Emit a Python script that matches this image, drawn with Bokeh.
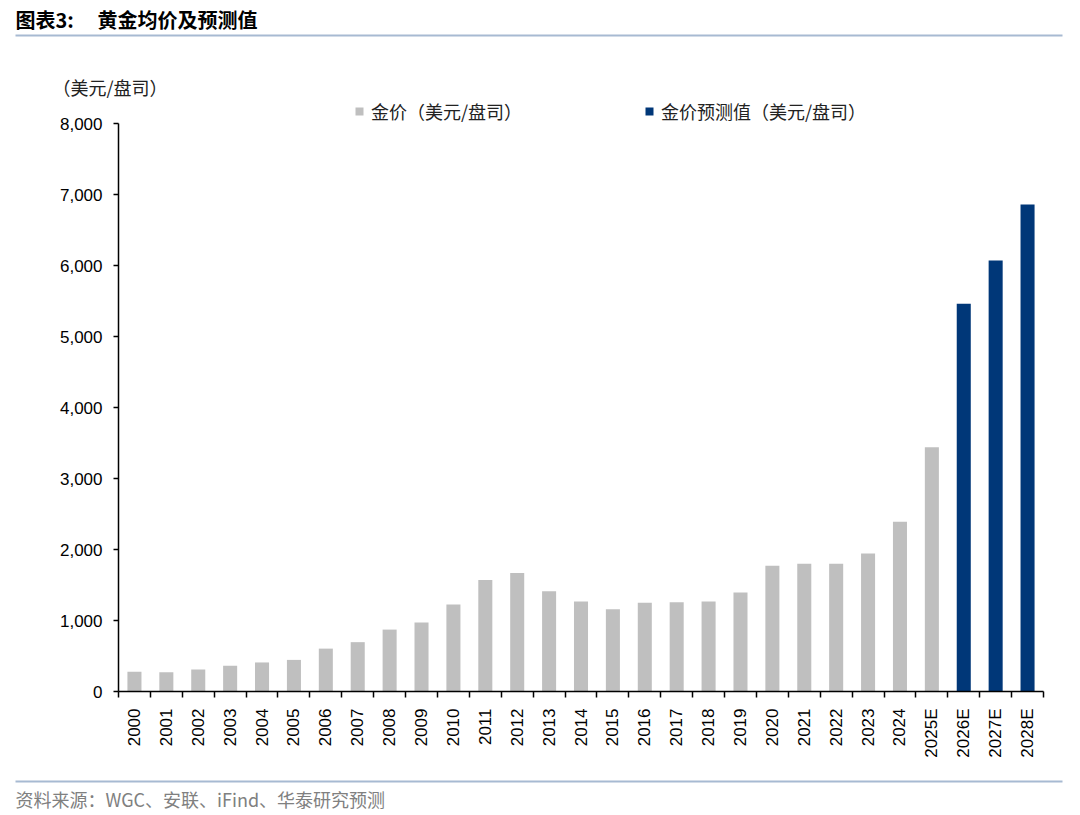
import math
from bokeh.plotting import figure
from bokeh.models import (ColumnDataSource, FixedTicker, Label, BoxAnnotation,
                          Legend, LegendItem, Range1d, NumeralTickFormatter)
from bokeh.embed import file_html
from bokeh.resources import INLINE

categories = ["2000", "2001", "2002", "2003", "2004", "2005", "2006", "2007",
              "2008", "2009", "2010", "2011", "2012", "2013", "2014", "2015",
              "2016", "2017", "2018", "2019", "2020", "2021", "2022", "2023",
              "2024", "2025E", "2026E", "2027E", "2028E"]
actual_values = [279, 271, 310, 363, 409, 445, 604, 695, 872, 972, 1225, 1572,
                 1669, 1411, 1266, 1160, 1251, 1257, 1268, 1393, 1770, 1800,
                 1800, 1943, 2390, 3440]
forecast_values = [5460, 6070, 6860]
y_ticks = [0, 1000, 2000, 3000, 4000, 5000, 6000, 7000, 8000]

n_cat = len(categories)
n_act = len(actual_values)
act_src = ColumnDataSource(dict(x=list(range(n_act)), top=actual_values))
fc_src = ColumnDataSource(dict(x=list(range(n_act, n_cat)), top=forecast_values))

CJK = "Noto Sans CJK SC"
LAT = "Liberation Sans"
LINE_COLOR = "#a7bad2"

# canvas geometry (figure drawn from the page's top-left corner)
W, H = 1072, 811
PAGE_OFF = 0
AX_L, AX_R = 118, 1043   # page x of plot area
AX_T, AX_B = 123, 691    # page y of 8,000 and 0
Y_MAX = y_ticks[-1]

cat_w = (AX_R - AX_L) / n_cat
x_start = -0.5 - (AX_L - PAGE_OFF) / cat_w
x_end = n_cat - 0.5 + (PAGE_OFF + W - AX_R) / cat_w
v_per_px = Y_MAX / (AX_B - AX_T)
y_start = -(PAGE_OFF + H - AX_B) * v_per_px
y_end = Y_MAX + (AX_T - PAGE_OFF) * v_per_px

p = figure(width=W, height=H, output_backend="svg", toolbar_location=None,
           x_range=Range1d(x_start, x_end), y_range=Range1d(y_start, y_end),
           min_border=0, min_border_left=0, min_border_right=0,
           min_border_top=0, min_border_bottom=0)
p.outline_line_color = None
p.grid.visible = False

r1 = p.vbar(x="x", top="top", width=0.44, source=act_src,
            fill_color="#bfbfbf", line_color=None)
r2 = p.vbar(x="x", top="top", width=0.44, source=fc_src,
            fill_color="#003778", line_color=None)

xa = p.xaxis[0]
xa.fixed_location = 0
xa.bounds = (-0.5, n_cat - 0.5)
xa.ticker = FixedTicker(ticks=list(range(n_cat)),
                        minor_ticks=[i - 0.5 for i in range(n_cat + 1)])
xa.major_label_overrides = {i: c for i, c in enumerate(categories)}
xa.major_tick_line_color = None
xa.major_tick_out = 0
xa.major_tick_in = 0
xa.minor_tick_out = 6
xa.minor_tick_in = 0
xa.minor_tick_line_color = "black"
xa.minor_tick_line_width = 1.5
xa.major_label_orientation = math.pi / 2
xa.major_label_standoff = 11
xa.major_label_text_font = LAT
xa.major_label_text_font_size = "17px"
xa.major_label_text_color = "black"
xa.axis_line_color = "black"
xa.axis_line_width = 1.5

ya = p.yaxis[0]
ya.fixed_location = -0.5
ya.bounds = (0, Y_MAX)
ya.ticker = FixedTicker(ticks=y_ticks)
ya.formatter = NumeralTickFormatter(format="0,0")
ya.major_tick_out = 5
ya.major_tick_in = 0
ya.major_tick_line_width = 1.5
ya.minor_tick_line_color = None
ya.major_label_standoff = 11
ya.major_label_text_font = LAT
ya.major_label_text_font_size = "17px"
ya.major_label_text_color = "black"
ya.axis_line_color = "black"
ya.axis_line_width = 1.5


def sx(page_x):
    return page_x - PAGE_OFF


def sy(page_y):
    return PAGE_OFF + H - page_y


legend = Legend(items=[LegendItem(label="金价（美元/盘司）", renderers=[r1]),
                       LegendItem(label="金价预测值（美元/盘司）", renderers=[r2])],
                orientation="horizontal", location=(sx(354), sy(124)),
                glyph_width=10, glyph_height=10, label_standoff=7, spacing=122,
                padding=0, margin=0, border_line_color=None,
                background_fill_alpha=0, label_text_font=CJK,
                label_text_font_size="18px", label_text_color="#222222")
p.add_layout(legend)


def lab(text, px, py, size, bold=False, color="black", font=CJK):
    p.add_layout(Label(x=sx(px), y=sy(py), x_units="screen", y_units="screen",
                       text=text, text_font=font, text_font_size=size,
                       text_font_style="bold" if bold else "normal",
                       text_color=color, text_baseline="middle", text_align="left"))


def hline(py):
    p.add_layout(BoxAnnotation(left=sx(15), right=sx(1062), top=sy(py) + 1,
                               bottom=sy(py) - 1,
                               left_units="screen", right_units="screen",
                               top_units="screen", bottom_units="screen",
                               fill_color=LINE_COLOR, fill_alpha=1, line_color=None))


lab("图表3:", 15, 19, "20px", bold=True)
lab("黄金均价及预测值", 97, 19, "20px", bold=True)
hline(35)
lab("（美元/盘司）", 52, 86, "18px", color="#222222")
hline(781)
lab("资料来源：WGC、安联、iFind、华泰研究预测", 15, 798, "18px", color="#808080")

open("out.html", "w").write(file_html(p, INLINE))
